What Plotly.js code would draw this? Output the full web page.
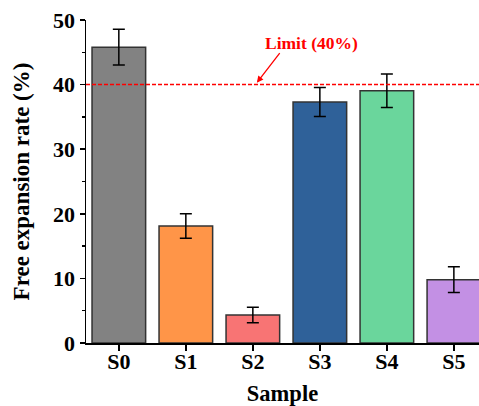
<!DOCTYPE html>
<html>
<head>
<meta charset="utf-8">
<script src="https://cdn.plot.ly/plotly-3.0.1.min.js"></script>
<style>html,body{margin:0;padding:0;background:#fff;}#chart{width:479px;height:406px;}</style>
</head>
<body>
<div id="chart"></div>
<script>
const samples = ['S0', 'S1', 'S2', 'S3', 'S4', 'S5'];
const expansion = [45.8, 18.1, 4.35, 37.3, 39.05, 9.8];
const errors = [2.75, 1.9, 1.2, 2.25, 2.6, 2.0];
const barColors = ['#828282', '#FF9548', '#F87474', '#2F6199', '#6AD69C', '#C390E4'];
const limitValue = 40;
const limitLabel = 'Limit (40%)';

const FONT = 'Liberation Serif, Times New Roman, serif';

const trace = {
  type: 'bar',
  x: samples.map((s, i) => i),
  y: expansion,
  width: 0.8,
  marker: { color: barColors, line: { color: '#333333', width: 1.5 } },
  error_y: { type: 'data', array: errors, visible: true, color: '#000', thickness: 1.5, width: 6 },
  hoverinfo: 'none'
};

const layout = {
  width: 479, height: 406,
  margin: { l: 86, r: 0, t: 20, b: 63 },
  paper_bgcolor: '#fff', plot_bgcolor: '#fff',
  showlegend: false,
  font: { family: FONT, color: '#000' },
  xaxis: {
    range: [-0.49, 5.375],
    tickmode: 'array', tickvals: samples.map((s, i) => i), ticktext: samples,
    showline: true, linecolor: '#000', linewidth: 1.5,
    ticks: 'outside', ticklen: 6, tickwidth: 1.5, tickcolor: '#000',
    ticklabelstandoff: -8,
    showgrid: false, zeroline: false,
    tickfont: { family: FONT, size: 22, weight: 'bold', color: '#000' },
    title: { text: 'Sample', font: { family: FONT, size: 22.5, weight: 'bold', color: '#000' }, standoff: 25 },
    automargin: false
  },
  yaxis: {
    range: [0, 50],
    tickvals: [0, 10, 20, 30, 40, 50],
    showline: true, linecolor: '#000', linewidth: 1.5,
    ticks: 'outside', ticklen: 5, tickwidth: 1.5, tickcolor: '#000',
    minor: { tickvals: [5, 15, 25, 35, 45], ticks: 'outside', ticklen: 3, tickwidth: 1.5, tickcolor: '#000' },
    showgrid: false, zeroline: false,
    tickfont: { family: FONT, size: 22, weight: 'bold', color: '#000' },
    title: { text: 'Free expansion rate (%)', font: { family: FONT, size: 23, weight: 'bold', color: '#000' }, standoff: 17 },
    automargin: false
  },
  shapes: [{
    type: 'line', xref: 'paper', yref: 'y', x0: 0, x1: 1, y0: limitValue, y1: limitValue,
    line: { color: '#FF0000', width: 1.5, dash: '4px,2px' }
  }],
  annotations: [
    {
      x: 2.88, y: 46.45, xref: 'x', yref: 'y', text: limitLabel, showarrow: false,
      font: { family: FONT, size: 17.5, weight: 'bold', color: '#FF0000' }
    },
    {
      x: 2.06, y: 40.3, xref: 'x', yref: 'y', text: '', showarrow: true,
      ax: 24, ay: -31, arrowhead: 2, arrowsize: 1, arrowwidth: 1.3, arrowcolor: '#FF0000', standoff: 0
    }
  ]
};

Plotly.newPlot('chart', [trace], layout, { displayModeBar: false, staticPlot: true });
</script>
</body>
</html>
